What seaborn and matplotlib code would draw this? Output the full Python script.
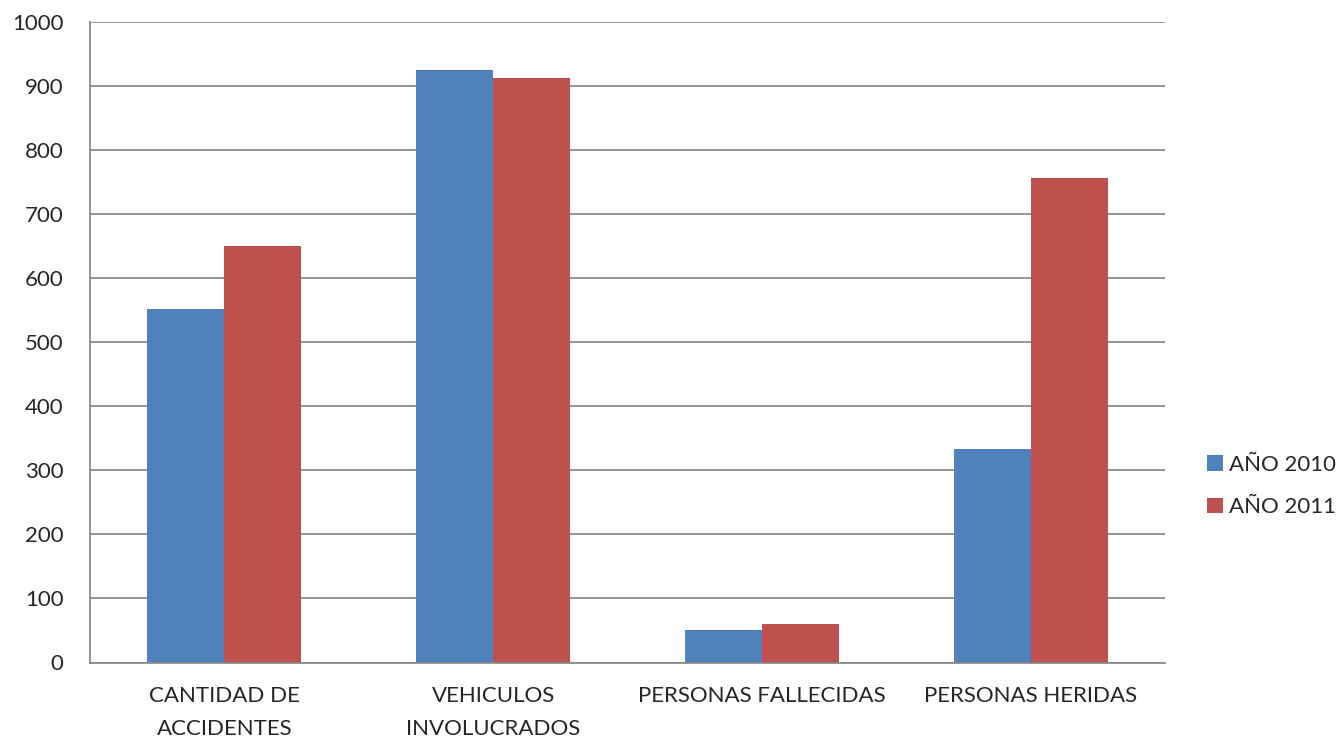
import pandas as pd
import matplotlib.pyplot as plt
import seaborn as sns

# data
categories = ["CANTIDAD DE\nACCIDENTES", "VEHICULOS\nINVOLUCRADOS",
              "PERSONAS FALLECIDAS", "PERSONAS HERIDAS"]
series_names = ["AÑO 2010", "AÑO 2011"]
values_2010 = [552, 925, 51, 334]
values_2011 = [650, 913, 60, 756]
colors = ["#4F81BD", "#C0504D"]

df = pd.DataFrame({
    "categoria": categories * 2,
    "serie": [series_names[0]] * 4 + [series_names[1]] * 4,
    "valor": values_2010 + values_2011,
})

sns.set_style("white")
plt.rcParams['font.family'] = ['Lato', 'DejaVu Sans']

fig = plt.figure(figsize=(13.42, 7.43), dpi=100)
ax = fig.add_axes([90 / 1342, (743 - 662.5) / 743, 1075 / 1342, 640.5 / 743])

sns.barplot(data=df, x="categoria", y="valor", hue="serie", palette=colors,
            width=0.573, saturation=1, ax=ax, linewidth=0)

ax.set_xlim(-0.5, 3.5)
ax.set_ylim(0, 1000)
ax.set_yticks(range(0, 1001, 100))
ax.yaxis.grid(True, color="#8c8c8c", linewidth=1.3)
ax.set_axisbelow(True)

for side in ["top", "right"]:
    ax.spines[side].set_visible(False)
for side in ["left", "bottom"]:
    ax.spines[side].set_color("#8c8c8c")
    ax.spines[side].set_linewidth(1.3)

# category boundary ticks like the original
ax.set_xticks([-0.5, 0.5, 1.5, 2.5, 3.5], minor=True)
ax.tick_params(axis="x", which="minor", length=6, width=1.3, color="#8c8c8c", direction="out")
ax.tick_params(axis="x", which="major", length=0, labelsize=16, pad=17)
ax.tick_params(axis="y", length=5, width=1.3, color="#8c8c8c", direction="out", labelsize=16, pad=14)
for lbl in ax.get_xticklabels():
    lbl.set_linespacing(1.8)

ax.set_xlabel("")
ax.set_ylabel("")

handles, labels = ax.get_legend_handles_labels()
ax.legend(handles, labels, loc="center left", bbox_to_anchor=(1207 / 1342, (743 - 486) / 743),
          bbox_transform=fig.transFigure, frameon=False, fontsize=16,
          borderaxespad=0, borderpad=0,
          handlelength=0.7, handleheight=0.7, handletextpad=0.3, labelspacing=1.0)

fig.savefig("out.png", dpi=100)
